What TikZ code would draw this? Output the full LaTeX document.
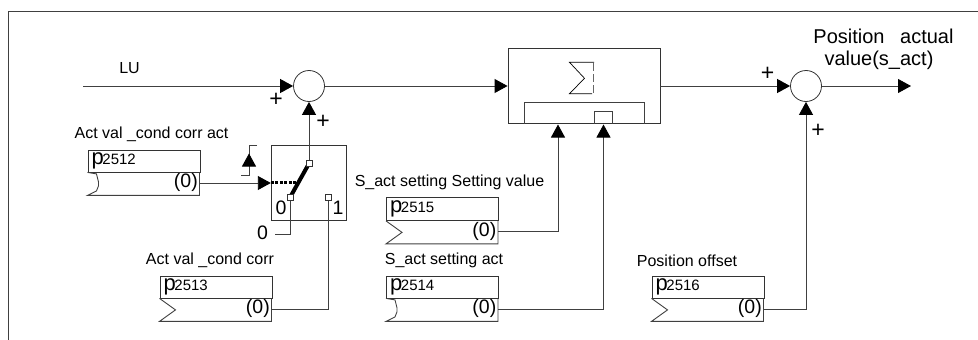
\documentclass[tikz,border=0pt]{standalone}
\usepackage{fontspec}
\setmainfont{Liberation Sans}
\usetikzlibrary{arrows.meta}

\tikzset{
	wire/.style = {line width=0.9pt, color=black!75},
	sig/.style = {wire, -{Triangle[length=13pt,width=14pt,color=black]}},
	paramtop/.style = {draw=black!80, line width=0.9pt, anchor=north west, inner sep=0pt, minimum width=112pt},
	chevronnotch/.style = {insert path={-- ++(16,11.5) -- ++(-16,11.5)}},
	bracketnotch/.style = {insert path={-- ++(9,1.5) -- ++(2,8) -- ++(0,4) -- ++(-2,5) -- ++(-9,4.5)}},
	sumnode/.style = {circle, draw=black!80, line width=0.8pt, minimum size=31pt, inner sep=0pt},
	contact/.style = {rectangle, draw=black!80, fill=white, line width=0.7pt, minimum size=6pt, inner sep=0pt},
	lbl/.style = {inner sep=0pt, font=\fontsize{16}{18}\selectfont},
	big/.style = {inner sep=0pt, font=\fontsize{19.5}{21}\selectfont},
	plusmark/.style = {inner sep=0pt, font=\fontsize{23}{23}\selectfont}
}

% name, left x, top y, divider y, number, notch style
\newcommand{\paramblock}[6]{
	\node[paramtop, minimum height={(#4-#3)*1pt}] (#1) at (#2,#3) {};
	\draw[wire] (#1.south west) [#6] -- ++(112,0) -- ++(0,-23);
	\node[anchor=west, inner sep=0pt] (#1txt) at ([xshift=4pt]#1.west) {\fontsize{22}{22}\selectfont p\kern-1.5pt\fontsize{15}{15}\selectfont #5};
	\node[big, anchor=east] (#1val) at (#2+110.5,#4+11) {(0)};
	\coordinate (#1out) at (#2+112,#4+11.5);
}

\begin{document}
\begin{tikzpicture}[x=1pt,y=-1pt]
	\useasboundingbox (0,0) rectangle (978,340);

	% frame, open on two sides
	\draw[wire] (978,11) -- (8,11) -- (8,340);

	% summing points
	\node[sumnode] (suma) at (309,86) {};
	\node[sumnode] (sumb) at (806,86) {};

	% setting block
	\node[draw=black!80, line width=0.9pt, minimum width=152pt, minimum height=75pt, inner sep=0pt] (setblock) at (584,86) {};
	\draw[wire] (524,123.5) -- (524,102) -- (644,102) -- (644,123.5);
	\draw[wire] (594,123.5) -- (594,111.5) -- (612,111.5) -- (612,123.5);
	\draw[line width=0.7pt] (594,62.3) -- (569.5,62.3) -- (584.5,78.3) -- (569.5,93.7) -- (592,93.7);
	\draw[line width=0.7pt, color=black!60, dash pattern=on 8pt off 3pt] (593.8,63) -- (593.8,93);

	% switch
	\node[draw=black!80, line width=0.9pt, minimum size=75.5pt, inner sep=0pt] (swbox) at (309,183) {};
	\draw[line width=4pt] (290,197.5) -- (309,163.5);
	\node[contact] (conout) at (309,163.5) {};
	\node[contact] (conzero) at (290,197.5) {};
	\node[contact] (conone) at (328,197.5) {};
	\node[big] (swzero) at (281,207.5) {0};
	\node[big] (swone) at (338,207.5) {1};
	\coordinate (swin) at (297,182.5);

	% parameter blocks
	\paramblock{p2512}{87.5}{149.5}{171.5}{2512}{bracketnotch}
	\paramblock{p2513}{159.5}{275.5}{297.5}{2513}{chevronnotch}
	\paramblock{p2515}{386}{196.5}{220}{2515}{chevronnotch}
	\paramblock{p2514}{386}{275.5}{297.5}{2514}{bracketnotch}
	\paramblock{p2516}{651.5}{275.5}{297.5}{2516}{chevronnotch}

	% block titles
	\node[lbl] (lblu) at (129.5,68) {LU};
	\node[lbl] (lbcorract) at (151.5,134) {Act val \_cond corr act};
	\node[lbl] (lbcorr) at (210,260.5) {Act val \_cond corr};
	\node[lbl] (lbsetval) at (449.5,182) {S\_act setting Setting value};
	\node[lbl] (lbsetact) at (444,260.5) {S\_act setting act};
	\node[lbl] (lboffset) at (687,260.5) {Position offset};
	\node[inner sep=0pt, font=\fontsize{20}{22}\selectfont] (lbpos) at (883.5,36) {Position\hspace{10pt} actual};
	\node[inner sep=0pt, font=\fontsize{20}{22}\selectfont] (lbval) at (879,60) {value(s\_act)};

	% plus signs
	\node[plusmark] (plusa) at (276,100) {+};
	\node[plusmark] (plusb) at (323,122) {+};
	\node[plusmark] (plusc) at (767.5,74) {+};
	\node[plusmark] (plusd) at (818,131) {+};

	% signal path
	\coordinate (inlu) at (83,86);
	\coordinate (outpos) at (911,86);
	\draw[sig] (inlu) -- (suma.west);
	\draw[sig] (suma.east) -- (setblock.west);
	\draw[sig] (setblock.east) -- (sumb.west);
	\draw[sig] (sumb.east) -- (outpos);

	% switch connections
	\draw[sig] (conout.north) -- (suma.south);
	\draw[sig] (p2512out) -- (swbox.west |- p2512out);
	\draw[line width=2.2pt, dash pattern=on 3pt off 1.5pt] (swbox.west |- swin) -- (swin);
	\node[big] (zeroin) at (262.5,233) {0};
	\draw[wire] (275,234) -| (conzero.south);
	\draw[wire] (p2513out) -| (conone.south);

	% control marker of the switch
	\coordinate (marktop) at (257,145.5);
	\coordinate (markbot) at (241,175);
	\draw[wire] (marktop) -- (249,145.5) -- (249,175) -- (markbot);
	\draw[sig] (249,175) -- (249,153.5);

	% setting inputs
	\coordinate (setval) at (558,124.5);
	\coordinate (setact) at (603.5,124.5);
	\draw[sig] (p2515out) -| (setval);
	\draw[sig] (p2514out) -| (setact);
	\draw[sig] (p2516out) -| (sumb.south);
\end{tikzpicture}
\end{document}
